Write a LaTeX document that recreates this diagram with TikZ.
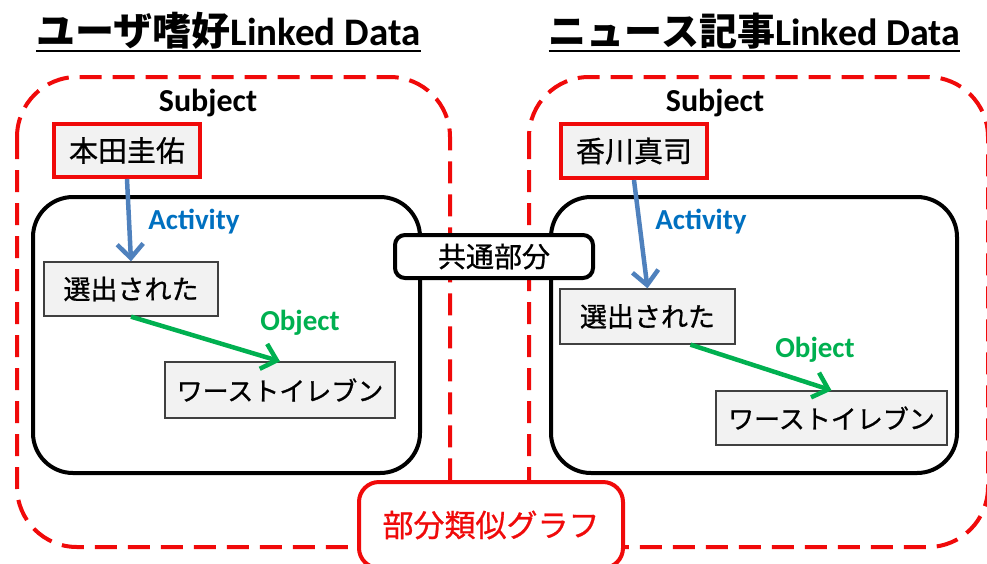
\documentclass[tikz,border=0pt]{standalone}
\usepackage{fontspec}
\setmainfont{Carlito}
\newfontfamily\jp{Noto Sans CJK JP}
\newfontfamily\jpbox{Noto Sans CJK JP}[FakeBold=0.8]
\usetikzlibrary{arrows.meta, positioning}
\definecolor{myred}{RGB}{240,10,10}
\definecolor{myblue}{RGB}{79,129,189}
\definecolor{actblue}{RGB}{0,112,192}
\definecolor{mygreen}{RGB}{0,176,80}
\definecolor{boxgray}{RGB}{242,242,242}
\tikzset{
  titlelbl/.style={inner sep=0pt, anchor=base,
    font=\fontsize{39}{42}\selectfont\bfseries},
  rolelbl/.style={inner sep=0pt, font=\fontsize{29}{32}\selectfont\bfseries},
  entbox/.style={rectangle, draw=black!75, fill=boxgray, line width=1.3pt,
    inner sep=0pt, font=\fontsize{26}{28}\selectfont\jpbox},
  subjbox/.style={entbox, draw=myred, line width=4pt,
    font=\fontsize{29}{31}\selectfont\jpbox},
  tagbox/.style={rectangle, draw=black, fill=white, line width=4pt,
    rounded corners=10pt, inner sep=0pt, font=\fontsize{28}{30}\selectfont\jpbox},
  region/.style={draw=myred, line width=4pt, dash pattern=on 22pt off 11pt,
    rounded corners=60pt},
  graphbox/.style={draw=black, line width=4pt, rounded corners=40pt},
  actarrow/.style={-{Straight Barb[length=14pt, width=26pt]}, line width=4.5pt, color=myblue},
  objarrow/.style={-{Straight Barb[length=14pt, width=26pt]}, line width=4.5pt, color=mygreen}
}

\begin{document}
\begin{tikzpicture}[x=1pt, y=-1pt]
  \useasboundingbox (0,0) rectangle (987,563);
  \clip (0,0) rectangle (987,563);
  % titles
  \node[titlelbl] (ttlU) at (228.5,45) {{\jp ユーザ嗜好}Linked Data};
  \node[titlelbl, font=\fontsize{38}{41}\selectfont\bfseries] (ttlN) at (754.5,45) {{\jp ニュース記事}Linked Data};
  \draw[line width=2pt] ([yshift=-6pt]ttlU.base west) -- ([yshift=-6pt]ttlU.base east);
  \draw[line width=2pt] ([yshift=-6pt]ttlN.base west) -- ([yshift=-6pt]ttlN.base east);
  % dashed regions
  \draw[region] (17,77) rectangle (450,547);
  \draw[region] (529,77) rectangle (988,547);
  % graph frames
  \draw[graphbox] (33,197) rectangle (420,473);
  \draw[graphbox] (551,197) rectangle (957,473);
  % left graph
  \node[rolelbl, font=\fontsize{32}{34}\selectfont\bfseries] (subjU) at (208,103) {Subject};
  \node[subjbox, minimum width=146pt, minimum height=53pt] (honda) at (127,150.5) {本田圭佑};
  \node[entbox, minimum width=174pt, minimum height=54pt,
    font=\fontsize{27}{29}\selectfont\jpbox] (selU) at (131,289) {選出された};
  \node[entbox, minimum width=230pt, minimum height=56pt] (worstU) at (280,390) {ワーストイレブン};
  \node[rolelbl, color=actblue] (actU) at (194,222) {Activity};
  \node[rolelbl, color=mygreen] (objU) at (300,323) {Object};
  \draw[actarrow] (honda.south) -- (selU.north);
  \draw[objarrow] (selU.south) -- (worstU.north);
  % right graph
  \node[rolelbl, font=\fontsize{32}{34}\selectfont\bfseries] (subjN) at (715,103) {Subject};
  \node[subjbox, minimum width=146pt, minimum height=54pt] (kagawa) at (634,151) {香川真司};
  \node[entbox, minimum width=175pt, minimum height=55pt,
    font=\fontsize{27}{29}\selectfont\jpbox] (selN) at (647.5,316.5) {選出された};
  \node[entbox, minimum width=231pt, minimum height=54pt] (worstN) at (831.5,418) {ワーストイレブン};
  \node[rolelbl, color=actblue] (actN) at (701,222) {Activity};
  \node[rolelbl, color=mygreen] (objN) at (815,350) {Object};
  \draw[actarrow] (kagawa.south) -- (selN.north);
  \draw[objarrow] ([xshift=43pt]selN.south) -- (worstN.north);
  % shared part and similar subgraph
  \node[tagbox, minimum width=198pt, minimum height=43pt] (common) at (494,256.5) {共通部分};
  \node[tagbox, draw=myred, rounded corners=20pt, minimum width=264pt, minimum height=86pt,
    text=myred, font=\fontsize{31}{33}\selectfont\jpbox] (simgraph) at (491,525) {部分類似グラフ};
\end{tikzpicture}
\end{document}
